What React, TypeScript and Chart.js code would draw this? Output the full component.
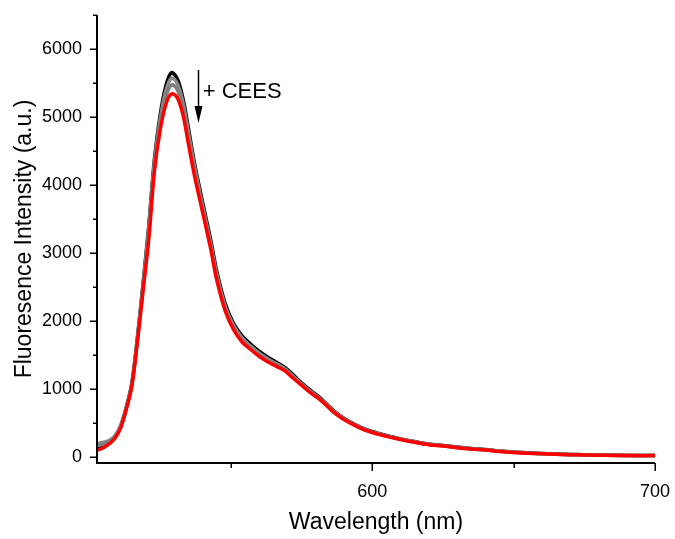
import { useEffect, useRef } from "react";
import { Chart, registerables } from "chart.js";

Chart.register(...registerables);

const FONT = '"Liberation Sans", Arial, Helvetica, sans-serif';

// Wavelength (nm)
const wavelengths = [
  503, 505, 507, 509, 511, 513, 515, 517, 519, 521, 523, 525, 527, 529, 531, 533,
  535, 537, 539, 541, 543, 545, 548, 551, 554, 557, 560, 563, 566, 569, 572, 575,
  578, 581, 584, 587, 590, 594, 598, 602, 606, 610, 615, 620, 625, 630, 635, 640,
  645, 650, 655, 660, 665, 670, 675, 680, 685, 690, 695, 700,
];

// Before CEES (black)
const blackSeries = [
  115, 150, 205, 295, 450, 720, 1080, 1760, 2560, 3400, 4380, 5020, 5450, 5650, 5570, 5290,
  4840, 4360, 3950, 3560, 3170, 2740, 2260, 1960, 1780, 1660, 1555, 1470, 1395, 1320, 1210, 1090,
  985, 890, 775, 660, 570, 475, 400, 350, 305, 265, 225, 190, 168, 145, 125, 108,
  88, 72, 60, 50, 42, 36, 32, 28, 25, 22, 20, 22,
];

// Intermediate additions (gray)
const gray1Series = [
  200, 215, 240, 310, 450, 715, 1070, 1740, 2530, 3360, 4330, 4960, 5380, 5570, 5500, 5230,
  4780, 4310, 3900, 3510, 3120, 2700, 2220, 1930, 1750, 1630, 1530, 1445, 1375, 1300, 1190, 1075,
  970, 875, 765, 650, 562, 470, 395, 345, 300, 262, 222, 186, 164, 141, 121, 105,
  85, 70, 58, 48, 40, 34, 30, 26, 23, 21, 19, 21,
];

const gray2Series = [
  170, 190, 225, 295, 440, 700, 1055, 1720, 2490, 3300, 4260, 4880, 5290, 5470, 5410, 5150,
  4700, 4250, 3850, 3470, 3080, 2650, 2190, 1900, 1720, 1600, 1505, 1420, 1355, 1285, 1175, 1065,
  960, 868, 758, 642, 556, 465, 390, 340, 298, 258, 218, 183, 162, 138, 118, 102,
  82, 67, 56, 46, 39, 33, 29, 26, 23, 21, 19, 21,
];

// After CEES (red)
const redSeries = [
  100, 135, 190, 270, 420, 690, 1040, 1700, 2450, 3200, 4200, 4800, 5180, 5340, 5290, 5050,
  4610, 4170, 3790, 3420, 3040, 2610, 2150, 1870, 1690, 1580, 1480, 1400, 1335, 1270, 1160, 1055,
  950, 860, 750, 635, 550, 460, 385, 335, 295, 255, 215, 180, 160, 135, 115, 100,
  80, 65, 55, 45, 38, 32, 28, 25, 22, 20, 18, 20,
];

const xMajorTicks = [600, 700];
const xMinorTicks = [550, 650];
const yMajorTicks = [0, 1000, 2000, 3000, 4000, 5000, 6000];
const yMinorTicks = [500, 1500, 2500, 3500, 4500, 5500, 6500];

const xTitle = "Wavelength (nm)";
const yTitle = "Fluoresence Intensity (a.u.)";
const noteText = "+ CEES";
const noteX = 540.1;
const noteY = 5280;
const arrowX = 538.5;
const arrowTop = 5690;
const arrowTip = 4910;

const toPoints = (vals: number[]) => vals.map((v, i) => ({ x: wavelengths[i], y: v }));

const axesPlugin = {
  id: "axesAndNote",
  afterDraw(chart: any) {
    const { ctx, chartArea: a, scales } = chart;
    const x = scales.x;
    const y = scales.y;
    ctx.save();
    ctx.strokeStyle = "#000";
    ctx.fillStyle = "#000";
    ctx.lineWidth = 2;
    ctx.beginPath();
    ctx.moveTo(a.left, a.top);
    ctx.lineTo(a.left, a.bottom);
    ctx.lineTo(a.right, a.bottom);
    ctx.stroke();

    ctx.lineWidth = 1.5;
    const yTick = (v: number, len: number) => {
      const py = Math.round(y.getPixelForValue(v)) + 0.25;
      ctx.beginPath();
      ctx.moveTo(a.left, py);
      ctx.lineTo(a.left - len, py);
      ctx.stroke();
    };
    const xTick = (v: number, len: number) => {
      const px = Math.round(x.getPixelForValue(v)) + 0.25;
      ctx.beginPath();
      ctx.moveTo(px, a.bottom);
      ctx.lineTo(px, a.bottom + len);
      ctx.stroke();
    };
    yMajorTicks.forEach((v) => yTick(v, 7));
    yMinorTicks.forEach((v) => yTick(v, 4));
    xMajorTicks.forEach((v) => xTick(v, 8));
    xMinorTicks.forEach((v) => xTick(v, 5));

    // arrow
    const ax = Math.round(x.getPixelForValue(arrowX)) + 0.5;
    const aTop = y.getPixelForValue(arrowTop);
    const aTip = y.getPixelForValue(arrowTip);
    ctx.lineWidth = 1.5;
    ctx.beginPath();
    ctx.moveTo(ax, aTop);
    ctx.lineTo(ax, aTip - 8);
    ctx.stroke();
    ctx.beginPath();
    ctx.moveTo(ax - 4, aTip - 17);
    ctx.lineTo(ax + 4, aTip - 17);
    ctx.lineTo(ax, aTip);
    ctx.closePath();
    ctx.fill();

    ctx.font = `22px ${FONT}`;
    ctx.textAlign = "left";
    ctx.textBaseline = "alphabetic";
    ctx.fillText(noteText, x.getPixelForValue(noteX), y.getPixelForValue(noteY));
    ctx.restore();
  },
};

export default function App() {
  const ref = useRef<HTMLCanvasElement>(null);
  useEffect(() => {
    if (!ref.current) return;
    const chart = new Chart(ref.current, {
      type: "line",
      data: {
        datasets: [
          { label: "red", data: toPoints(redSeries), borderColor: "#ff0000", order: 0 },
          { label: "gray2", data: toPoints(gray2Series), borderColor: "#7f7f7f", order: 1 },
          { label: "gray1", data: toPoints(gray1Series), borderColor: "#8a8a8a", order: 2 },
          { label: "black", data: toPoints(blackSeries), borderColor: "#000000", order: 3 },
        ].map((d) => ({
          ...d,
          borderWidth: 3.5,
          pointRadius: 0,
          fill: false,
          tension: 0.35,
        })),
      },
      options: {
        animation: false,
        responsive: false,
        devicePixelRatio: 1,
        layout: { padding: { top: 15, right: 20, left: 0, bottom: 0 } },
        plugins: { legend: { display: false }, tooltip: { enabled: false } },
        scales: {
          x: {
            type: "linear",
            min: 502.7,
            max: 700,
            grid: { display: false, drawTicks: false },
            border: { display: false },
            afterBuildTicks: (s: any) => {
              s.ticks = xMajorTicks.map((v) => ({ value: v }));
            },
            afterFit: (s: any) => {
              s.height = 76;
              s.paddingLeft = 0;
              s.paddingRight = 0;
            },
            ticks: {
              color: "#000",
              padding: 18,
              maxRotation: 0,
              callback: (v: any) => String(v),
              font: { family: FONT, size: 18 },
            },
            title: {
              display: true,
              text: xTitle,
              color: "#000",
              font: { family: FONT, size: 23 },
              padding: { top: 0, bottom: 3 },
            },
          },
          y: {
            type: "linear",
            min: -90,
            max: 6500,
            grid: { display: false, drawTicks: false },
            border: { display: false },
            afterBuildTicks: (s: any) => {
              s.ticks = yMajorTicks.map((v) => ({ value: v }));
            },
            afterFit: (s: any) => {
              s.width = 97;
              s.paddingTop = 0;
              s.paddingBottom = 0;
            },
            ticks: {
              color: "#000",
              padding: 15,
              callback: (v: any) => String(v),
              font: { family: FONT, size: 18 },
            },
            title: {
              display: true,
              text: yTitle,
              color: "#000",
              font: { family: FONT, size: 23 },
              padding: { top: 11, bottom: 0 },
            },
          },
        },
      },
      plugins: [axesPlugin],
    });
    return () => chart.destroy();
  }, []);
  return (
    <div style={{ position: "absolute", left: 0, top: 0, width: 675, height: 539, background: "#fff" }}>
      <canvas ref={ref} width={675} height={539} style={{ display: "block", width: 675, height: 539 }} />
    </div>
  );
}
